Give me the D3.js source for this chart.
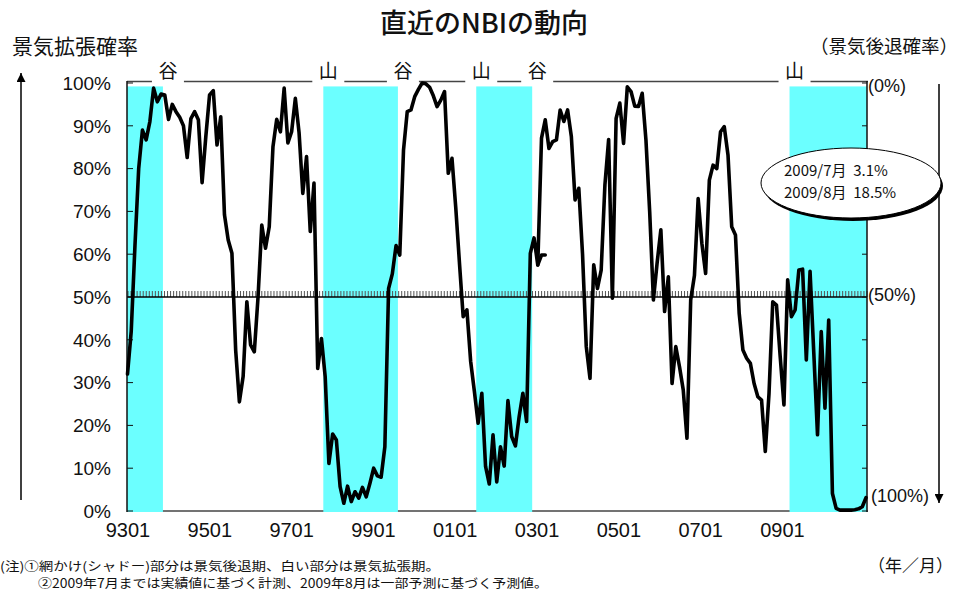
<!DOCTYPE html>
<html><head><meta charset="utf-8">
<script src="https://cdn.jsdelivr.net/npm/d3@7"></script>
<style>body{margin:0;background:#fff}svg{display:block}</style>
</head><body>
<svg id="c" width="960" height="594"></svg>
<script>
// ---------------- data ----------------
const startYear = 1993;            // series starts 1993-01, monthly
const nbi = [
32,42,62,80,89,86.7,91,98.8,95.6,97.4,97.2,91.5,          // 1993
95,93.3,92,90,82.6,91.7,93.3,91.4,76.7,87.5,97.2,98.2,    // 1994
85.5,92.1,69.2,63.3,60.2,37.6,25.5,31.4,48.9,38.8,37.2,50,// 1995
66.8,61.4,66.4,85.1,91.5,88.6,98.8,86,88.6,96.4,88.4,74.2,// 1996
82.8,65.3,76.6,33.3,40.3,31.4,11.1,18,16.6,5.7,1.8,5.8,   // 1997
2.2,4.5,3,5.5,3.3,6.5,10,8.2,7.9,15,52,55.4,              // 1998
62,59.8,84.3,93.3,93.7,96.8,98.5,100,99.8,99,97,94.5,     // 1999
96,98,78.9,82.4,71,58,45.4,47,35,28,20.5,27.5,            // 2000
10.4,6.3,17.8,6.8,15,10.5,25.8,17.4,15.2,22,27.5,20.9,    // 2001
60.2,63.8,57.5,87.1,91.4,84.7,86.3,86.7,93.7,91,93.7,87.5,// 2002
72.7,75.4,60,38.4,31,57.5,52,56.3,76.2,86.8,49.7,91.7,    // 2003
95.3,85.9,99.1,98,94.6,94.5,97.6,86.7,70,49.3,58,65.7,    // 2004
46.6,54.7,29.8,38.4,33.7,28.3,17,49.3,55,73,62.5,55.5,    // 2005
77.3,80.8,80,88.6,89.8,83.2,66.4,64.5,46.2,37.6,35.7,34.5,// 2006
29.8,26.7,25.9,13.9,27.5,48.9,48.1,36,24.8,54,45.4,47,    // 2007
56.3,56.5,35.3,56,37,17.8,41.9,24,44.6,4.1,0.6,0.2,       // 2008
0.2,0.2,0.2,0.3,0.5,1,3.1                                 // 2009 (to Jul)
];
// short earlier-estimate segment around 2002-03 .. 2002-05
const nbiPrevStart = "2002-03";
const nbiPrev = [57.5, 59.8, 59.8];

// recession periods (peak -> trough)
const recessionStart = ["1993-01","1997-05","2000-10","2007-10"];
const recessionEnd   = ["1993-10","1999-01","2002-01","2009-07"];
const turnLabels = [["谷","1993-10"],["山","1997-05"],["谷","1999-01"],
                    ["山","2000-10"],["谷","2002-01"],["山","2007-10"]];

const xTickLabels = ["9301","9501","9701","9901","0101","0301","0501","0701","0901"];
const yTicks = [0,10,20,30,40,50,60,70,80,90,100];
const rightTicks = [0,10,20,30,40,50,60,70,80,90,100];
const rightLabels = [["(0%)",100],["(50%)",50],["(100%)",0]];
const annotation = ["2009/7月  3.1%","2009/8月  18.5%"];
const notes = ["(注)①網かけ(シャドー)部分は景気後退期、白い部分は景気拡張期。",
               "②2009年7月までは実績値に基づく計測、2009年8月は一部予測に基づく予測値。"];

// ---------------- drawing ----------------
const svg = d3.select("#c");
const L = 127.5, R = 866, T = 83, B = 511;
const mIdx = s => { const [y,m] = s.split("-").map(Number); return (y-startYear)*12 + (m-1); };
const x = d3.scaleLinear().domain([0, nbi.length-1]).range([L, R]);
const y = d3.scaleLinear().domain([0,100]).range([B, T]);
const xLab = d3.scalePoint().domain(xTickLabels).range([128, 782.5]);
const jp = "'Noto Sans CJK JP','Noto Sans',sans-serif";
const num = "'Liberation Sans Narrow','Arial Narrow','Liberation Sans',Arial,sans-serif";

// plot frame top/bottom
svg.append("line").attr("x1",127).attr("x2",868).attr("y1",81.5).attr("y2",81.5)
  .attr("stroke","#444").attr("stroke-width",1.5);
svg.append("line").attr("x1",127).attr("x2",868).attr("y1",B).attr("y2",B)
  .attr("stroke","#444").attr("stroke-width",1.5);

// recession bands
const last = nbi.length-1;
svg.append("g").selectAll("rect").data(recessionStart.map((s,i)=>[mIdx(s), mIdx(recessionEnd[i])]))
  .join("rect")
  .attr("x", d => d[0]===0 ? 127 : x(d[0]+0.5))
  .attr("width", d => (d[1]>=last ? 867 : x(d[1]+0.5)) - (d[0]===0 ? 127 : x(d[0]+0.5)))
  .attr("y", y(99.2)).attr("height", B + 1 - y(99.2))
  .attr("fill","#6bffff");

// 50% line with hatch ticks
const hatch = d3.scaleLinear().domain([0,243]).range([128,867]);
svg.append("g").selectAll("line").data(d3.range(0,244)).join("line")
  .attr("x1",d=>hatch(d)).attr("x2",d=>hatch(d)).attr("y1",y(50)-6).attr("y2",y(50))
  .attr("stroke","#555").attr("stroke-width",1);
svg.append("line").attr("x1",127).attr("x2",867).attr("y1",y(50)).attr("y2",y(50))
  .attr("stroke","#000").attr("stroke-width",1.5);

// left and right axes
svg.append("line").attr("x1",127).attr("x2",127).attr("y1",81).attr("y2",B+1)
  .attr("stroke","#111").attr("stroke-width",1.5);
svg.append("line").attr("x1",867).attr("x2",867).attr("y1",81).attr("y2",B+1)
  .attr("stroke","#111").attr("stroke-width",1.5);
svg.append("g").selectAll("line").data(yTicks).join("line")
  .attr("x1",127).attr("x2",133).attr("y1",d=>y(d)).attr("y2",d=>y(d))
  .attr("stroke","#111").attr("stroke-width",1);
svg.append("g").selectAll("line").data(rightTicks).join("line")
  .attr("x1",862).attr("x2",867).attr("y1",d=>y(d)).attr("y2",d=>y(d))
  .attr("stroke","#111").attr("stroke-width",1);

// y tick labels
svg.append("g").selectAll("text").data(yTicks).join("text")
  .attr("x",111).attr("y",d=>y(d)).attr("dy","0.36em").attr("text-anchor","end")
  .attr("font-family",num).attr("font-size",19).attr("fill","#111").text(d=>d+"%");
// right labels
svg.append("g").selectAll("text").data(rightLabels).join("text")
  .attr("x",(d,i)=> i===2 ? 871 : 868).attr("y",(d,i)=> i===0 ? y(d[1])+3 : i===2 ? y(d[1])-15 : y(d[1])-2)
  .attr("dy","0.36em").attr("font-family",num).attr("font-size",18).attr("fill","#111").text(d=>d[0]);

// x labels
svg.append("g").selectAll("text").data(xTickLabels).join("text")
  .attr("x",d=>xLab(d)).attr("y",537).attr("text-anchor","middle")
  .attr("font-family",num).attr("font-size",20).attr("fill","#111").text(d=>d);

// data line
const line = d3.line().x((d,i)=>x(i)).y(d=>y(d)).curve(d3.curveLinear);
svg.append("path").attr("d",line(nbi)).attr("fill","none").attr("stroke","#000")
  .attr("stroke-width",3.6).attr("stroke-linejoin","round").attr("stroke-linecap","round");
const p0 = mIdx(nbiPrevStart);
svg.append("path").attr("d",d3.line().x((d,i)=>x(p0+i)).y(d=>y(d))(nbiPrev))
  .attr("fill","none").attr("stroke","#000").attr("stroke-width",3.6)
  .attr("stroke-linejoin","round").attr("stroke-linecap","round");

// turning point labels with white boxes
const tl = svg.append("g").selectAll("g").data(turnLabels).join("g")
  .attr("transform", d => `translate(${x(mIdx(d[1])+0.5)+5},71)`);
tl.append("rect").attr("x",-16).attr("y",-12).attr("width",32).attr("height",24).attr("fill","#fff");
tl.append("text").attr("text-anchor","middle").attr("dy","0.36em")
  .attr("font-family",jp).attr("font-size",19).attr("fill","#111").text(d=>d[0]);

// title and axis titles
svg.append("text").attr("x",484).attr("y",33).attr("text-anchor","middle")
  .attr("font-family",jp).attr("font-size",27).attr("font-weight",500).attr("fill","#111")
  .text("直近のNBIの動向");
svg.append("text").attr("x",12).attr("y",54).attr("font-family",jp).attr("font-size",21)
  .attr("fill","#111").text("景気拡張確率");
svg.append("text").attr("x",958).attr("y",53).attr("text-anchor","end").attr("font-family",jp)
  .attr("font-size",18.5).attr("fill","#111").text("（景気後退確率）");

// arrows
const defs = svg.append("defs");
defs.append("marker").attr("id","ah").attr("viewBox","0 0 10 10").attr("refX",10).attr("refY",5)
  .attr("markerWidth",9).attr("markerHeight",9).attr("markerUnits","userSpaceOnUse").attr("orient","auto")
  .append("path").attr("d","M0,0L10,5L0,10Z").attr("fill","#000");
svg.append("line").attr("x1",21).attr("x2",21).attr("y1",500).attr("y2",73)
  .attr("stroke","#000").attr("stroke-width",1.5).attr("marker-end","url(#ah)");
svg.append("line").attr("x1",939).attr("x2",939).attr("y1",84).attr("y2",503)
  .attr("stroke","#000").attr("stroke-width",1.5).attr("marker-end","url(#ah)");

// annotation ellipse
svg.append("ellipse").attr("cx",853).attr("cy",186).attr("rx",90).attr("ry",35).attr("fill","#000");
svg.append("ellipse").attr("cx",851).attr("cy",183).attr("rx",90).attr("ry",35)
  .attr("fill","#fff").attr("stroke","#000").attr("stroke-width",1);
svg.append("g").selectAll("text").data(annotation).join("text")
  .attr("x",784).attr("y",(d,i)=>176+i*22).attr("font-family",jp).attr("font-size",15)
  .attr("fill","#111").style("white-space","pre").text(d=>d);

// notes
svg.append("text").attr("x",0).attr("y",571).attr("font-family",jp).attr("font-size",12.5)
  .attr("fill","#111").attr("textLength",440).attr("lengthAdjust","spacingAndGlyphs").text(notes[0]);
svg.append("text").attr("x",38).attr("y",588).attr("font-family",jp).attr("font-size",12.5)
  .attr("fill","#111").attr("textLength",510).attr("lengthAdjust","spacingAndGlyphs").text(notes[1]);
svg.append("text").attr("x",868).attr("y",572).attr("font-family",jp).attr("font-size",17)
  .attr("fill","#111").text("（年／月）");
</script>
</body></html>
